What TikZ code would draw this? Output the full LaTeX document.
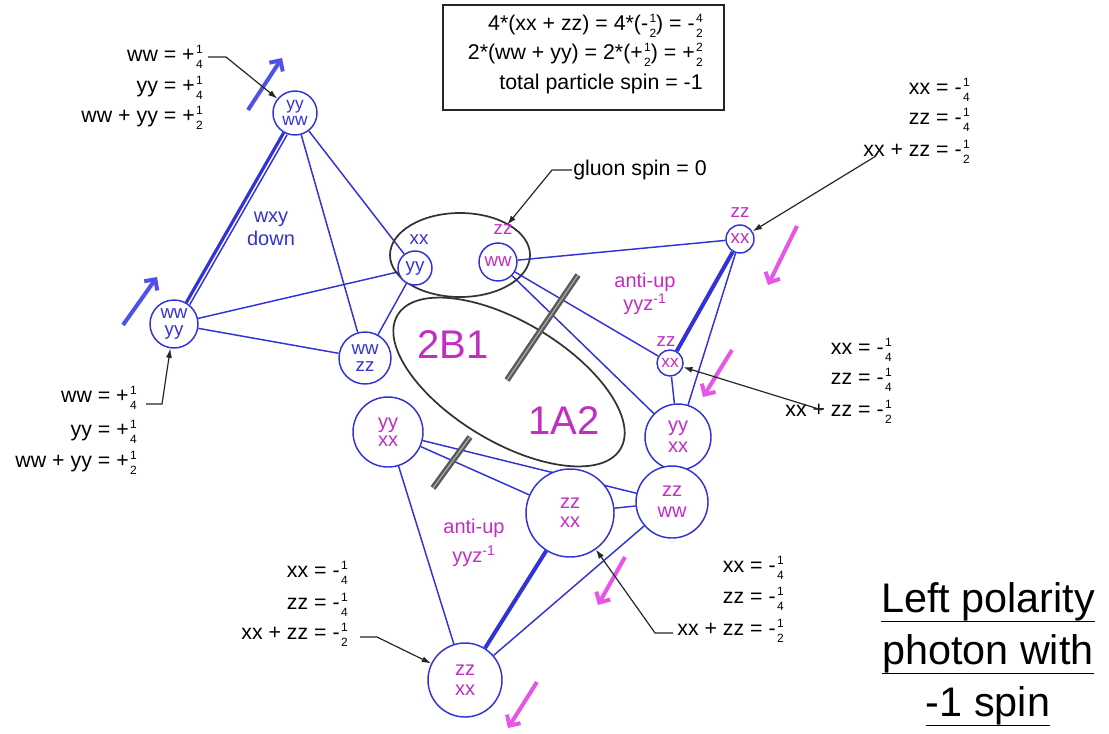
\documentclass[tikz,border=0pt]{standalone}
\usepackage{fontspec}
\setmainfont{Liberation Sans}
\usetikzlibrary{shapes.geometric,arrows.meta}
\pgfdeclarelayer{bg}
\pgfsetlayers{bg,main}
\definecolor{bl}{RGB}{50,50,215}
\definecolor{mg}{RGB}{195,45,195}
\definecolor{pk}{RGB}{230,85,230}
\definecolor{ab}{RGB}{80,80,235}
\newcommand{\fr}[2]{\kern1pt\raisebox{-5pt}{\fontsize{9}{11}\selectfont\vbox{\halign{\hfil##\hfil\cr#1\cr#2\cr}}}}
\begin{document}
\begin{tikzpicture}[x=0.75pt,y=-0.75pt,
  every node/.style={inner sep=0pt},
  pt/.style={circle, draw=bl, line width=1.1pt, fill=white, align=center, text=mg, font=\fontsize{15}{15}\selectfont},
  edge/.style={draw=bl, line width=1.1pt},
  thickedge/.style={draw=bl, line width=3pt},
  leader/.style={draw=black!85, line width=0.9pt, -{Latex[length=7pt,width=4.5pt]}},
  ann/.style={font=\fontsize{16}{18}\selectfont, anchor=east},
  bar/.style={draw=black!65, line width=4.5pt},
  barin/.style={draw=black!35, line width=1pt},
  uparrow/.style={draw=ab, line width=3pt, -{Straight Barb[length=6pt,width=12pt]}},
  dnarrow/.style={draw=pk, line width=3pt, -{Straight Barb[length=6pt,width=12pt]}},
  ell/.style={ellipse, draw=black!80, line width=1.3pt},
  ttl/.style={font=\fontsize{31}{31}\selectfont, anchor=base},
  uline/.style={draw=black, line width=1.2pt},
  lab/.style={font=\fontsize{14}{14}\selectfont},
]
\useasboundingbox (0,0) rectangle (1109,733);

% ellipses
\node[ell, minimum width=105pt, minimum height=63pt] (glu) at (460,255) {};
\node[ell, minimum width=195pt, minimum height=90pt, rotate=-31] (big) at (509,382) {};

% circles
\node[pt, minimum size=33pt, text=bl, font=\fontsize{13}{12.5}\selectfont] (A) at (295,113) {yy\\ww};
\node[pt, minimum size=36pt, text=bl, font=\fontsize{14}{13}\selectfont] (B) at (174,324) {ww\\yy};
\node[pt, minimum size=39pt, text=bl, font=\fontsize{14}{13}\selectfont] (C) at (365,358) {ww\\zz};
\node[pt, minimum size=25.5pt, text=bl, font=\fontsize{14}{14}\selectfont] (D) at (415,268) {yy};
\node[lab, text=bl] (Dx) at (419,240) {xx};
\node[pt, minimum size=28.5pt, font=\fontsize{14}{14}\selectfont] (E) at (498,262) {ww};
\node[lab, text=mg] (Ez) at (503,230) {zz};
\node[pt, minimum size=21pt, font=\fontsize{14}{14}\selectfont] (F) at (740,239) {xx};
\node[lab, text=mg] (Fz) at (740,213) {zz};
\node[pt, minimum size=19.5pt, font=\fontsize{13}{13}\selectfont] (G) at (670,363) {xx};
\node[lab, text=mg] (Gz) at (666,342) {zz};
\node[pt, minimum size=49.5pt, font=\fontsize{15}{16}\selectfont] (H) at (678,437) {yy\\xx};
\node[pt, minimum size=54pt, font=\fontsize{15}{16}\selectfont] (I) at (672,502) {zz\\ww};
\node[pt, minimum size=52.5pt, font=\fontsize{15}{13.5}\selectfont] (J) at (388,432) {yy\\xx};
\node[pt, minimum size=66pt, font=\fontsize{15}{14}\selectfont] (K) at (570,513) {zz\\xx};
\node[pt, minimum size=55.5pt] (L) at (465,680) {zz\\xx};

% edges
\begin{pgfonlayer}{bg}
\draw[draw=bl, line width=2.4pt] (A) -- (B);
\draw[edge, transform canvas={xshift=2.6pt,yshift=-1.5pt}] (A) -- (B);
\draw[edge] (A) -- (C);
\draw[edge] (A) -- (D);
\draw[edge] (B) -- (D);
\draw[edge] (B) -- (C);
\draw[edge] (C) -- (D);
\draw[edge] (E) -- (F);
\draw[edge] (E) -- (G);
\draw[edge] (E) -- (H);
\draw[edge] (F) -- (H);
\draw[edge] (G) -- (H);
\draw[edge] (J) -- (K);
\draw[edge] (J) -- (I);
\draw[edge] (K) -- (I);
\draw[edge] (J) -- (L);
\draw[edge] (I) -- (L);
\draw[thickedge] (K) -- (L);
\draw[thickedge] (F) -- (G);
\end{pgfonlayer}

% gray bars
\draw[bar] (507,380) -- (578,275);
\draw[barin] (507,380) -- (578,275);
\draw[bar] (433,488) -- (470,437);
\draw[barin] (433,488) -- (470,437);

% inner labels
\node[font=\fontsize{30}{30}\selectfont, text=mg] (t2b1) at (453,345) {2B1};
\node[font=\fontsize{30}{30}\selectfont, text=mg] (t1a2) at (564,421) {1A2};
\node[font=\fontsize{15}{17}\selectfont, text=bl, align=center] (wxy) at (271,229) {wxy\\down};
\node[font=\fontsize{15}{17}\selectfont, text=mg, align=center] (au1) at (645,294) {anti-up\\yyz\textsuperscript{-1}};
\node[font=\fontsize{15}{22}\selectfont, text=mg, align=center] (au2) at (474,543) {anti-up\\yyz\textsuperscript{-1}};

% spin arrows
\draw[uparrow] (248,110) -- (282,58);
\draw[uparrow] (123,325) -- (157,277);
\draw[dnarrow] (797,226) -- (768,285);
\draw[dnarrow] (732,350) -- (703,397);
\draw[dnarrow] (625,557) -- (598,605);
\draw[dnarrow] (537,682) -- (508,728);

% top box
\node[draw=black!85, line width=1.1pt, minimum width=211pt, minimum height=79pt] (box) at (583.5,57.5) {};
\node[ann] (bx1) at (703,26) {4*(xx + zz) = 4*(-\fr{1}{2}) = -\fr{4}{2}};
\node[ann] (bx2) at (703,55) {2*(ww + yy) = 2*(+\fr{1}{2}) = +\fr{2}{2}};
\node[ann] (bx3) at (703,84) {total particle spin = -1};

% annotation blocks
\node[ann] (tl1) at (203,57) {ww = +\fr{1}{4}};
\node[ann] (tl2) at (203,88) {yy = +\fr{1}{4}};
\node[ann] (tl3) at (203,118) {ww + yy = +\fr{1}{2}};
\draw[leader] (tl1.east) ++(5,0) -- ++(18,0) -- (A);

\node[ann] (bl1) at (137,398) {ww = +\fr{1}{4}};
\node[ann] (bl2) at (137,432) {yy = +\fr{1}{4}};
\node[ann] (bl3) at (137,463) {ww + yy = +\fr{1}{2}};
\draw[leader] (bl1.east) ++(9,6) -- ++(16,0) -- (B);

\node[ann] (tr1) at (970,90) {xx = -\fr{1}{4}};
\node[ann] (tr2) at (970,120) {zz = -\fr{1}{4}};
\node[ann] (tr3) at (970,152) {xx + zz = -\fr{1}{2}};
\coordinate (trs) at (876,156);
\draw[leader] (trs) -- (F);

\node[ann] (mr1) at (892,350) {xx = -\fr{1}{4}};
\node[ann] (mr2) at (892,380) {zz = -\fr{1}{4}};
\node[ann] (mr3) at (892,412) {xx + zz = -\fr{1}{2}};
\coordinate (mrs) at (822,410);
\draw[leader] (mrs) -- (G);

\node[ann] (bb1) at (348,573) {xx = -\fr{1}{4}};
\node[ann] (bb2) at (348,605) {zz = -\fr{1}{4}};
\node[ann] (bb3) at (348,635) {xx + zz = -\fr{1}{2}};
\draw[leader] (bb3.east) ++(12,2) -- ++(17,0) -- (L);

\node[ann] (br1) at (784,568) {xx = -\fr{1}{4}};
\node[ann] (br2) at (784,599) {zz = -\fr{1}{4}};
\node[ann] (br3) at (784,631) {xx + zz = -\fr{1}{2}};
\draw[leader] (br3.west) ++(-4,2) -- ++(-18,0) -- (K);

\node[font=\fontsize{16}{18}\selectfont, anchor=west] (gs) at (573,170) {gluon spin = 0};
\draw[leader] (gs.west) ++(-1,0) -- ++(-20,0) -- (Ez);

% title
\node[ttl] (t1) at (988,612) {Left polarity};
\node[ttl] (t2) at (988,664) {photon with};
\node[ttl] (t3) at (988,716) {-1 spin};
\draw[uline] ([yshift=-7pt]t1.base west) -- ([yshift=-7pt]t1.base east);
\draw[uline] ([yshift=-7pt]t2.base west) -- ([yshift=-7pt]t2.base east);
\draw[uline] ([yshift=-7pt]t3.base west) -- ([yshift=-7pt]t3.base east);
\end{tikzpicture}
\end{document}
